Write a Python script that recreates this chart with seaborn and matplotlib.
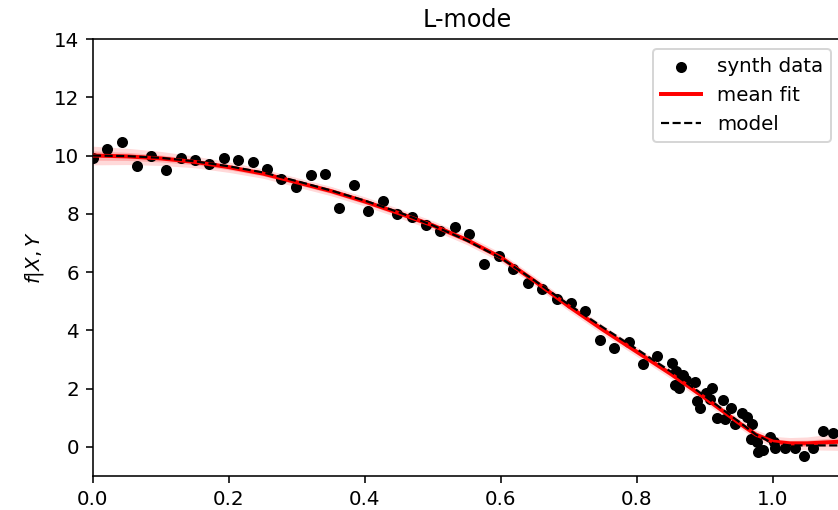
import numpy as np
import pandas as pd
import matplotlib
matplotlib.use("Agg")
import matplotlib.pyplot as plt
import seaborn as sns

# synthetic data points
data_x = [0.000, 0.021, 0.043, 0.064, 0.086, 0.107, 0.129, 0.150, 0.171, 0.192,
          0.213, 0.235, 0.256, 0.277, 0.298, 0.320, 0.341, 0.362, 0.384, 0.405,
          0.427, 0.447, 0.469, 0.490, 0.511, 0.533, 0.553, 0.575, 0.597, 0.618,
          0.639, 0.660, 0.682, 0.703, 0.724, 0.745, 0.766, 0.788, 0.809, 0.830,
          0.852, 0.858, 0.867, 0.856, 0.862, 0.872, 0.885, 0.888, 0.893, 0.901,
          0.911, 0.907, 0.917, 0.926, 0.929, 0.938, 0.944, 0.955, 0.962, 0.969,
          0.967, 0.977, 0.978, 0.986, 0.995, 1.001, 1.003, 1.018, 1.032, 1.046,
          1.059, 1.074, 1.088]
data_y = [9.93, 10.24, 10.46, 9.63, 9.98, 9.50, 9.90, 9.84, 9.71, 9.92,
          9.83, 9.77, 9.55, 9.18, 8.91, 9.32, 9.37, 8.19, 8.99, 8.08,
          8.43, 8.00, 7.89, 7.63, 7.42, 7.54, 7.31, 6.29, 6.56, 6.10,
          5.62, 5.43, 5.08, 4.95, 4.67, 3.68, 3.39, 3.61, 2.83, 3.12,
          2.89, 2.62, 2.47, 2.13, 2.02, 2.30, 2.21, 1.56, 1.34, 1.86,
          2.02, 1.64, 0.99, 1.62, 0.94, 1.33, 0.79, 1.15, 1.02, 0.79,
          0.27, 0.16, -0.17, -0.10, 0.33, 0.18, -0.05, -0.05, -0.05, -0.32,
          -0.05, 0.53, 0.49]

# fit / model curves
curve_x = [0.0, 0.05, 0.1, 0.15, 0.2, 0.25, 0.3, 0.35, 0.4, 0.45, 0.5, 0.55, 0.6,
           0.65, 0.7, 0.75, 0.8, 0.85, 0.9, 0.95, 0.975, 1.0, 1.025, 1.05, 1.075, 1.1]
mean_fit = [10.0, 9.97, 9.90, 9.78, 9.60, 9.38, 9.08, 8.78, 8.42, 8.02, 7.60, 7.10, 6.50,
            5.68, 4.82, 4.02, 3.26, 2.50, 1.68, 0.82, 0.42, 0.18, 0.12, 0.12, 0.15, 0.18]
fit_std = [0.16, 0.14, 0.12, 0.10, 0.09, 0.08, 0.08, 0.08, 0.08, 0.08, 0.08, 0.08, 0.08,
           0.08, 0.08, 0.08, 0.08, 0.08, 0.08, 0.08, 0.08, 0.09, 0.10, 0.11, 0.13, 0.15]
model = [10.0, 9.98, 9.92, 9.80, 9.63, 9.42, 9.12, 8.80, 8.45, 8.05, 7.60, 7.08, 6.48,
         5.70, 4.88, 4.10, 3.35, 2.58, 1.74, 0.86, 0.42, 0.12, 0.05, 0.05, 0.05, 0.05]

W, H, DPI = 838, 510, 143
fig = plt.figure(figsize=(W / DPI, H / DPI), dpi=DPI)
ax = fig.add_axes([93 / W, 34 / H, 748 / W, 437 / H])

df_data = pd.DataFrame({"x": data_x, "y": data_y})
df_curve = pd.DataFrame({"x": curve_x, "mean": mean_fit, "std": fit_std, "model": model})

m = np.array(mean_fit)
s = np.array(fit_std)
ax.fill_between(curve_x, m - 2 * s, m + 2 * s, color="red", alpha=0.15, linewidth=0)
ax.fill_between(curve_x, m - s, m + s, color="red", alpha=0.2, linewidth=0)

sns.scatterplot(data=df_data, x="x", y="y", ax=ax, color="black", s=31,
                linewidth=0, label="synth data", zorder=3)
sns.lineplot(data=df_curve, x="x", y="mean", ax=ax, color="red", linewidth=2,
             label="mean fit", zorder=4)
sns.lineplot(data=df_curve, x="x", y="model", ax=ax, color="black", linewidth=1.1,
             linestyle="--", label="model", zorder=5)

ax.set_xlim(0, 1.1)
ax.set_ylim(-1, 14)
ax.set_xticks([0.0, 0.2, 0.4, 0.6, 0.8, 1.0])
ax.set_yticks([0, 2, 4, 6, 8, 10, 12, 14])
ax.set_xlabel("")
ax.set_ylabel(r"$f|X, Y$")
ax.set_title("L-mode")
ax.legend(loc="upper right")

fig.savefig("out.png", dpi=DPI)
